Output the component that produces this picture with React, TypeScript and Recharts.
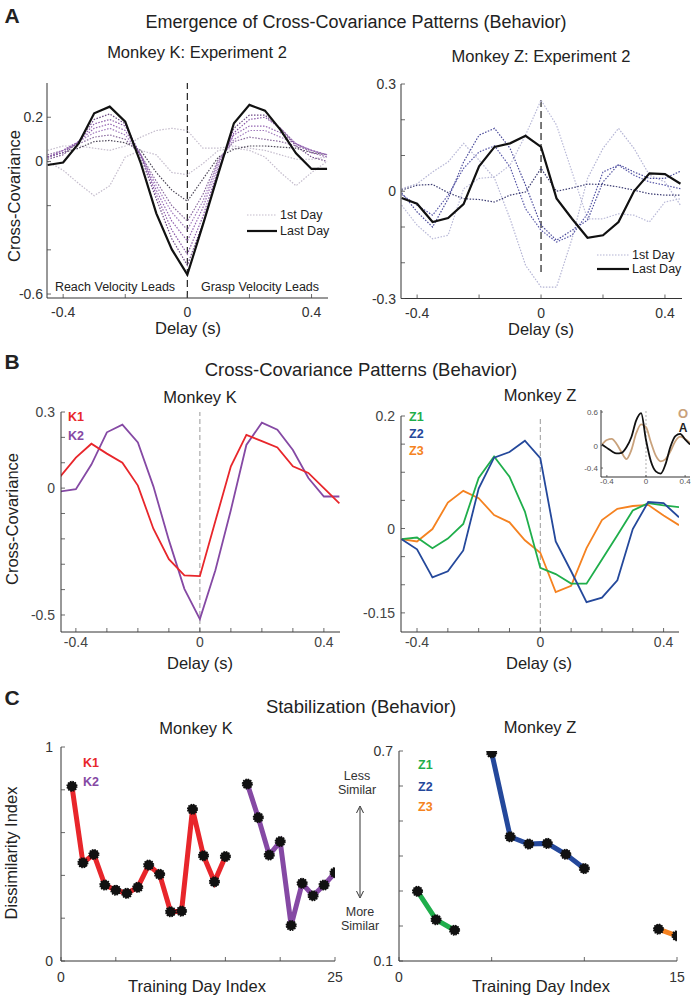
import React from "react";
import { LineChart, Line, XAxis, YAxis, ReferenceLine } from "recharts";

const FONT = "'Liberation Sans', Arial, Helvetica, sans-serif";

// delay grid shared by panels A and B (s)
const delays = [-0.45, -0.4, -0.35, -0.3, -0.25, -0.2, -0.15, -0.1, -0.05, 0, 0.05, 0.1, 0.15, 0.2, 0.25, 0.3, 0.35, 0.4, 0.45];

// A: Monkey K, experiment 2 (one curve per training day)
const kFirstDay = [0.05, 0.07, 0.07, 0.06, 0.05, 0.07, 0.11, 0.14, 0.15, 0.14, 0.06, 0.06, 0.07, 0.06, 0.05, 0.03, 0.01, 0.01, 0.02];
const kDay2 = [0.0, -0.04, -0.1, -0.155, -0.11, 0.02, 0.05, 0.03, -0.05, -0.06, -0.01, 0.05, 0.06, 0.05, 0.02, -0.05, -0.11, -0.05, 0.0];
const kDay3 = [0.02, 0.04, 0.06, 0.09, 0.095, 0.085, 0.05, -0.05, -0.13, -0.18, -0.08, 0.02, 0.055, 0.07, 0.07, 0.065, 0.06, 0.04, 0.03];
const kDay4 = [0.03, 0.05, 0.08, 0.11, 0.12, 0.1, 0.03, -0.09, -0.2, -0.27, -0.15, 0.01, 0.09, 0.11, 0.1, 0.09, 0.07, 0.05, 0.03];
const kDay5 = [0.02, 0.05, 0.09, 0.13, 0.15, 0.12, 0.03, -0.11, -0.23, -0.31, -0.18, 0.0, 0.1, 0.14, 0.14, 0.11, 0.08, 0.05, 0.03];
const kDay6 = [0.02, 0.05, 0.09, 0.15, 0.17, 0.14, 0.03, -0.13, -0.27, -0.36, -0.21, -0.01, 0.12, 0.16, 0.16, 0.13, 0.08, 0.05, 0.03];
const kDay7 = [0.02, 0.04, 0.09, 0.17, 0.19, 0.16, 0.03, -0.15, -0.31, -0.42, -0.25, -0.03, 0.13, 0.19, 0.2, 0.15, 0.08, 0.04, 0.02];
const kDay8 = [0.01, 0.03, 0.09, 0.19, 0.215, 0.17, 0.02, -0.17, -0.35, -0.47, -0.28, -0.04, 0.15, 0.21, 0.21, 0.15, 0.07, 0.02, 0.0];
const kLastDay = [-0.016, -0.005, 0.082, 0.218, 0.248, 0.18, -0.008, -0.235, -0.398, -0.512, -0.287, -0.054, 0.173, 0.256, 0.23, 0.143, 0.037, -0.034, -0.034];

// A: Monkey Z, experiment 2
const zFirstDay = [0.007, 0.021, 0.054, 0.082, 0.134, 0.087, 0.036, -0.077, -0.207, -0.268, -0.268, -0.133, 0.036, 0.12, 0.176, 0.12, 0.045, 0.026, -0.039];
const zDay2 = [-0.039, -0.095, -0.133, -0.123, 0.007, 0.036, 0.04, 0.073, 0.157, 0.255, 0.185, 0.054, -0.077, -0.077, -0.063, -0.067, -0.086, -0.03, -0.021];
const zDay3 = [-0.009, -0.039, -0.067, -0.011, 0.064, 0.11, 0.127, 0.068, -0.049, -0.109, -0.142, -0.123, -0.063, 0.054, 0.073, 0.045, 0.026, 0.017, 0.007];
const zDay4 = [-0.004, -0.058, -0.1, -0.021, 0.082, 0.157, 0.176, 0.12, 0.017, -0.095, -0.137, -0.109, -0.081, 0.026, 0.075, 0.054, 0.036, 0.036, 0.056];
const zDay5 = [0.003, 0.017, 0.019, -0.004, -0.021, -0.023, -0.03, -0.011, -0.002, 0.064, 0.0, 0.009, 0.02, 0.019, 0.012, 0.003, -0.007, -0.011, -0.011];
const zLastDay = [-0.019, -0.035, -0.086, -0.075, -0.036, 0.07, 0.124, 0.134, 0.155, 0.124, -0.02, -0.077, -0.13, -0.123, -0.086, 0.0, 0.05, 0.048, 0.021];

// B: stabilized patterns per experiment
const k1Pattern = [0.046, 0.12, 0.175, 0.136, 0.1, 0.01, -0.16, -0.28, -0.344, -0.347, -0.13, 0.086, 0.21, 0.185, 0.16, 0.086, 0.06, 0.0, -0.06];
const k2Pattern = [-0.013, -0.004, 0.093, 0.22, 0.25, 0.18, 0.007, -0.205, -0.397, -0.516, -0.324, -0.086, 0.17, 0.258, 0.23, 0.15, 0.04, -0.033, -0.033];
const z1Pattern = [-0.019, -0.016, -0.035, -0.018, 0.008, 0.09, 0.128, 0.092, 0.03, -0.07, -0.081, -0.098, -0.098, -0.055, -0.012, 0.032, 0.045, 0.041, 0.038];
const z2Pattern = [-0.019, -0.037, -0.087, -0.076, -0.039, 0.071, 0.126, 0.136, 0.156, 0.125, -0.023, -0.076, -0.131, -0.123, -0.092, -0.001, 0.047, 0.045, 0.02];
const z3Pattern = [-0.019, -0.023, -0.001, 0.046, 0.067, 0.054, 0.024, 0.011, -0.021, -0.043, -0.113, -0.102, -0.035, 0.015, 0.035, 0.04, 0.042, 0.023, 0.006];
// B inset: monkeys O and A
const oPattern = [0.02, 0.1, 0.12, 0.03, -0.12, -0.24, -0.08, 0.22, 0.38, 0.33, 0.06, -0.18, -0.28, -0.24, -0.1, 0.08, 0.16, 0.12, 0.05];
const aPattern = [0.02, -0.04, -0.1, -0.14, -0.13, -0.03, 0.15, 0.45, 0.58, 0.1, -0.28, -0.46, -0.5, -0.33, -0.02, 0.17, 0.21, 0.11, 0.02];

// C: dissimilarity index per training day
const k1Days = [1, 2, 3, 4, 5, 6, 7, 8, 9, 10, 11, 12, 13, 14, 15];
const k1Index = [0.816, 0.459, 0.498, 0.355, 0.331, 0.316, 0.344, 0.448, 0.405, 0.23, 0.233, 0.709, 0.492, 0.37, 0.488];
const k2Days = [17, 18, 19, 20, 21, 22, 23, 24, 25];
const k2Index = [0.827, 0.67, 0.495, 0.558, 0.166, 0.363, 0.305, 0.355, 0.413];
const z1Days = [1, 2, 3];
const z1Index = [0.299, 0.218, 0.188];
const z2Days = [5, 6, 7, 8, 9, 10];
const z2Index = [0.695, 0.455, 0.434, 0.436, 0.405, 0.364];
const z3Days = [14, 15];
const z3Index = [0.191, 0.172];

// ticks
const delayTicksA = [-0.4, -0.2, 0, 0.2, 0.4];
const delayTicksB = [-0.4, -0.3, -0.2, -0.1, 0, 0.1, 0.2, 0.3, 0.4];
const delayLabels = [-0.4, 0, 0.4];
const kAYTicks = [-0.6, -0.4, -0.2, 0, 0.2];
const kAYLabels = [-0.6, 0, 0.2];
const zAYTicks = [-0.3, -0.2, -0.1, 0, 0.1, 0.2, 0.3];
const zAYLabels = [-0.3, 0, 0.3];
const kBYTicks = [-0.5, -0.4, -0.3, -0.2, -0.1, 0, 0.1, 0.2, 0.3];
const kBYLabels = [-0.5, 0, 0.3];
const zBYTicks = [-0.15, -0.1, -0.05, 0, 0.05, 0.1, 0.15, 0.2];
const zBYLabels = [-0.15, 0, 0.2];
const insetXTicks = [-0.4, 0, 0.4];
const insetYTicks = [-0.4, 0, 0.6];
const kCXTicks = [0, 5, 10, 15, 20, 25];
const kCXLabels = [0, 25];
const kCYTicks = [0, 0.2, 0.4, 0.6, 0.8, 1];
const kCYLabels = [0, 1];
const zCXTicks = [0, 5, 10, 15];
const zCXLabels = [0, 15];
const zCYTicks = [0.1, 0.2, 0.3, 0.4, 0.5, 0.6, 0.7];
const zCYLabels = [0.1, 0.7];

const kARows = delays.map((x, i) => ({
  x, d1: kFirstDay[i], d2: kDay2[i], d3: kDay3[i], d4: kDay4[i], d5: kDay5[i],
  d6: kDay6[i], d7: kDay7[i], d8: kDay8[i], last: kLastDay[i],
}));
const zARows = delays.map((x, i) => ({
  x, d1: zFirstDay[i], d2: zDay2[i], d3: zDay3[i], d4: zDay4[i], d5: zDay5[i], last: zLastDay[i],
}));
const kBRows = delays.map((x, i) => ({ x, k1: k1Pattern[i], k2: k2Pattern[i] }));
const zBRows = delays.map((x, i) => ({ x, z1: z1Pattern[i], z2: z2Pattern[i], z3: z3Pattern[i] }));
const insetRows = delays.map((x, i) => ({ x, o: oPattern[i], a: aPattern[i] }));

function dayRows(maxDay: number, series: Record<string, [number[], number[]]>) {
  const rows: any[] = [];
  for (let d = 0; d <= maxDay; d++) {
    const row: any = { x: d };
    for (const key of Object.keys(series)) {
      const [days, vals] = series[key];
      const idx = days.indexOf(d);
      if (idx >= 0) row[key] = vals[idx];
    }
    rows.push(row);
  }
  return rows;
}
const kCRows = dayRows(25, { k1: [k1Days, k1Index], k2: [k2Days, k2Index] });
const zCRows = dayRows(15, { z1: [z1Days, z1Index], z2: [z2Days, z2Index], z3: [z3Days, z3Index] });

const RED = "#e8262b";
const PURPLE = "#8549a4";
const GREEN = "#1fae4b";
const BLUE = "#24489b";
const ORANGE = "#f58220";

type PlotProps = {
  left: number; top: number; width: number; height: number;
  xDomain: [number, number]; yDomain: [number, number];
  xTicks: number[]; xLabels: number[]; yTicks: number[]; yLabels: number[];
  data: any[]; fontSize?: number; xLabelDy?: number; yLabelDx?: number; tickLen?: number;
  labelColor?: string; children: React.ReactNode;
};

function Plot(p: PlotProps) {
  const ml = 46, mr = 8, mt = 8, mb = 30;
  const fs = p.fontSize ?? 14;
  const tl = p.tickLen ?? 4;
  const col = p.labelColor ?? "#333";
  const renderX = (props: any) => {
    const { x, y, payload } = props;
    const v = payload.value;
    return (
      <g>
        <line x1={x} x2={x} y1={y} y2={y - tl} stroke="#444" strokeWidth={0.8} />
        {p.xLabels.includes(v) && (
          <text x={x} y={y + (p.xLabelDy ?? 18)} textAnchor="middle" fontSize={fs} fill={col} fontFamily={FONT}>
            {String(v)}
          </text>
        )}
      </g>
    );
  };
  const renderY = (props: any) => {
    const { x, y, payload } = props;
    const v = payload.value;
    return (
      <g>
        <line x1={x} x2={x + tl} y1={y} y2={y} stroke="#444" strokeWidth={0.8} />
        {p.yLabels.includes(v) && (
          <text x={x - (p.yLabelDx ?? 5)} y={y + fs * 0.36} textAnchor="end" fontSize={fs} fill={col} fontFamily={FONT}>
            {String(v)}
          </text>
        )}
      </g>
    );
  };
  return (
    <div style={{ position: "absolute", left: p.left - ml, top: p.top - mt }}>
      <LineChart
        width={p.width + ml + mr}
        height={p.height + mt + mb}
        data={p.data}
        margin={{ top: mt, right: mr, left: 0, bottom: 0 }}
      >
        <XAxis
          type="number" dataKey="x" domain={p.xDomain} allowDataOverflow
          ticks={p.xTicks} interval={0} tickSize={0} tickMargin={0} tickLine={false}
          tick={renderX} height={mb} axisLine={{ stroke: "#333", strokeWidth: 1 }}
        />
        <YAxis
          type="number" domain={p.yDomain} allowDataOverflow
          ticks={p.yTicks} interval={0} tickSize={0} tickMargin={0} tickLine={false}
          tick={renderY} width={ml} axisLine={{ stroke: "#333", strokeWidth: 1 }}
        />
        {p.children}
      </LineChart>
    </div>
  );
}

function Txt({ x, y, size = 15, color = "#222", bold = false, anchor = "middle", rotate = false, children }: any) {
  const tx = anchor === "middle" ? "-50%" : anchor === "end" ? "-100%" : "0";
  return (
    <div
      style={{
        position: "absolute", left: x, top: y, whiteSpace: "nowrap", lineHeight: 1,
        fontFamily: FONT, fontSize: size, color, fontWeight: bold ? 700 : 400,
        transform: `translate(${tx}, -50%)${rotate ? " rotate(-90deg)" : ""}`,
      }}
    >
      {children}
    </div>
  );
}

const dotted = { strokeDasharray: "1.5 1.5", strokeWidth: 1.2, dot: false, isAnimationActive: false };

export default function App() {
  const marker = { r: 4.8, fill: "#111", stroke: "#111", strokeWidth: 1.5, strokeDasharray: "1.5 1" };
  return (
    <div style={{ position: "absolute", left: 0, top: 0, width: 693, height: 998, background: "#fff", overflow: "hidden" }}>
      {/* ---------- A ---------- */}
      <Txt x={12} y={15} size={21} bold>A</Txt>
      <Txt x={356} y={22} size={18}>Emergence of Cross-Covariance Patterns (Behavior)</Txt>
      <Txt x={197} y={52} size={16.5}>Monkey K: Experiment 2</Txt>
      <Txt x={541} y={56} size={16.5}>Monkey Z: Experiment 2</Txt>
      <Txt x={14} y={196} size={16.5} rotate>Cross-Covariance</Txt>

      <Plot left={47} top={83} width={281} height={215} xDomain={[-0.452, 0.453]} yDomain={[-0.618, 0.355]}
        xTicks={delayTicksA} xLabels={delayLabels} yTicks={kAYTicks} yLabels={kAYLabels} data={kARows} xLabelDy={19} yLabelDx={4}>
        <ReferenceLine x={0} stroke="#222" strokeWidth={1.2} strokeDasharray="7 4" />
        <Line dataKey="d1" stroke="#c4bccc" {...dotted} />
        <Line dataKey="d2" stroke="#c4bccc" {...dotted} />
        <Line dataKey="d3" stroke="#4e4858" {...dotted} />
        <Line dataKey="d4" stroke="#8a6a9e" {...dotted} />
        <Line dataKey="d5" stroke="#a27bbd" {...dotted} />
        <Line dataKey="d6" stroke="#9565b2" {...dotted} />
        <Line dataKey="d7" stroke="#8a58a8" {...dotted} />
        <Line dataKey="d8" stroke="#6e4a86" {...dotted} />
        <Line dataKey="last" stroke="#111" strokeWidth={2.2} dot={false} isAnimationActive={false} />
      </Plot>
      <Txt x={115} y={287} size={12.5}>Reach Velocity Leads</Txt>
      <Txt x={260} y={287} size={12.5}>Grasp Velocity Leads</Txt>
      <svg style={{ position: "absolute", left: 0, top: 0 }} width={693} height={998} pointerEvents="none">
        <line x1={247} x2={277} y1={215} y2={215} stroke="#c4bccc" strokeWidth={1.2} strokeDasharray="1.5 1.5" />
        <line x1={247} x2={277} y1={231} y2={231} stroke="#111" strokeWidth={2.2} />
        <line x1={597} x2={629} y1={255} y2={255} stroke="#b4b4d4" strokeWidth={1.2} strokeDasharray="1.5 1.5" />
        <line x1={597} x2={629} y1={269} y2={269} stroke="#111" strokeWidth={2.2} />
        <line x1={360} x2={360} y1={808} y2={896} stroke="#333" strokeWidth={1} />
        <path d="M356.5 813 L360 806 L363.5 813" fill="none" stroke="#333" strokeWidth={1} />
        <path d="M356.5 891 L360 898 L363.5 891" fill="none" stroke="#333" strokeWidth={1} />
      </svg>
      <Txt x={280} y={215} size={12.5} anchor="start">1st Day</Txt>
      <Txt x={280} y={231} size={12.5} anchor="start">Last Day</Txt>
      <Txt x={188} y={328} size={16.5}>Delay (s)</Txt>

      <Plot left={401} top={84} width={281} height={214.5} xDomain={[-0.452, 0.455]} yDomain={[-0.3, 0.3]}
        xTicks={delayTicksA} xLabels={delayLabels} yTicks={zAYTicks} yLabels={zAYLabels} data={zARows} xLabelDy={19} yLabelDx={5}>
        <ReferenceLine segment={[{ x: 0, y: 0.255 }, { x: 0, y: -0.235 }]} stroke="#222" strokeWidth={1.2} strokeDasharray="7 4" />
        <Line dataKey="d1" stroke="#b4b4d4" {...dotted} />
        <Line dataKey="d2" stroke="#babad8" {...dotted} />
        <Line dataKey="d3" stroke="#5858a8" {...dotted} />
        <Line dataKey="d4" stroke="#4a4a9a" {...dotted} />
        <Line dataKey="d5" stroke="#3c3c72" {...dotted} />
        <Line dataKey="last" stroke="#111" strokeWidth={2.2} dot={false} isAnimationActive={false} />
      </Plot>
      <Txt x={632} y={255} size={12.5} anchor="start">1st Day</Txt>
      <Txt x={632} y={269} size={12.5} anchor="start">Last Day</Txt>
      <Txt x={541} y={329} size={16.5}>Delay (s)</Txt>

      {/* ---------- B ---------- */}
      <Txt x={12} y={361} size={21} bold>B</Txt>
      <Txt x={361} y={370} size={18.5}>Cross-Covariance Patterns (Behavior)</Txt>
      <Txt x={200} y={397} size={16.5}>Monkey K</Txt>
      <Txt x={540} y={395} size={16.5}>Monkey Z</Txt>
      <Txt x={12} y={519} size={16.5} rotate>Cross-Covariance</Txt>

      <Plot left={61} top={412} width={279} height={220} xDomain={[-0.448, 0.452]} yDomain={[-0.567, 0.3]}
        xTicks={delayTicksB} xLabels={delayLabels} yTicks={kBYTicks} yLabels={kBYLabels} data={kBRows} xLabelDy={15} yLabelDx={6} labelColor="#444">
        <ReferenceLine x={0} stroke="#999" strokeWidth={1} strokeDasharray="5 3" />
        <Line dataKey="k2" stroke={PURPLE} strokeWidth={1.8} dot={false} isAnimationActive={false} />
        <Line dataKey="k1" stroke={RED} strokeWidth={1.8} dot={false} isAnimationActive={false} />
      </Plot>
      <Txt x={68} y={417} size={12.5} bold color={RED} anchor="start">K1</Txt>
      <Txt x={68} y={436} size={12.5} bold color={PURPLE} anchor="start">K2</Txt>
      <Txt x={200} y={663} size={16.5}>Delay (s)</Txt>

      <Plot left={401} top={416} width={278} height={216} xDomain={[-0.452, 0.45]} yDomain={[-0.184, 0.2]}
        xTicks={delayTicksB} xLabels={delayLabels} yTicks={zBYTicks} yLabels={zBYLabels} data={zBRows} xLabelDy={15} yLabelDx={6} labelColor="#444">
        <ReferenceLine x={0} stroke="#999" strokeWidth={1} strokeDasharray="5 3" />
        <Line dataKey="z3" stroke={ORANGE} strokeWidth={1.8} dot={false} isAnimationActive={false} />
        <Line dataKey="z1" stroke={GREEN} strokeWidth={1.8} dot={false} isAnimationActive={false} />
        <Line dataKey="z2" stroke={BLUE} strokeWidth={1.8} dot={false} isAnimationActive={false} />
      </Plot>
      <Txt x={409} y={417} size={12.5} bold color={GREEN} anchor="start">Z1</Txt>
      <Txt x={409} y={434} size={12.5} bold color={BLUE} anchor="start">Z2</Txt>
      <Txt x={409} y={451} size={12.5} bold color={ORANGE} anchor="start">Z3</Txt>
      <Txt x={539} y={663} size={16.5}>Delay (s)</Txt>

      <Plot left={601} top={410} width={89} height={67} xDomain={[-0.46, 0.45]} yDomain={[-0.56, 0.636]}
        xTicks={insetXTicks} xLabels={insetXTicks} yTicks={insetYTicks} yLabels={insetYTicks} data={insetRows}
        fontSize={8} xLabelDy={7} yLabelDx={3} tickLen={2} labelColor="#555">
        <ReferenceLine x={0} stroke="#999" strokeWidth={0.8} strokeDasharray="2 2" />
        <Line dataKey="o" type="monotone" stroke="#c9a27c" strokeWidth={1.8} dot={false} isAnimationActive={false} />
        <Line dataKey="a" type="monotone" stroke="#111" strokeWidth={1.8} dot={false} isAnimationActive={false} />
      </Plot>
      <Txt x={683} y={413} size={13} color="#c9a27c" bold>O</Txt>
      <Txt x={683} y={428} size={12} bold>A</Txt>

      {/* ---------- C ---------- */}
      <Txt x={12} y={697} size={21} bold>C</Txt>
      <Txt x={361} y={707} size={18.5}>Stabilization (Behavior)</Txt>
      <Txt x={196} y={728} size={16.5}>Monkey K</Txt>
      <Txt x={540} y={727} size={16.5}>Monkey Z</Txt>
      <Txt x={11} y={853} size={16.5} rotate>Dissimilarity Index</Txt>

      <Plot left={61} top={747} width={274} height={214} xDomain={[0, 25]} yDomain={[0, 1]}
        xTicks={kCXTicks} xLabels={kCXLabels} yTicks={kCYTicks} yLabels={kCYLabels} data={kCRows} xLabelDy={21} yLabelDx={8}>
        <Line dataKey="k1" stroke={RED} strokeWidth={5} dot={marker} isAnimationActive={false} />
        <Line dataKey="k2" stroke={PURPLE} strokeWidth={5} dot={marker} isAnimationActive={false} />
      </Plot>
      <Txt x={83} y={763} size={12.5} bold color={RED} anchor="start">K1</Txt>
      <Txt x={83} y={782} size={12.5} bold color={PURPLE} anchor="start">K2</Txt>
      <Txt x={197} y={986} size={16.5}>Training Day Index</Txt>

      <Txt x={357} y={776} size={12.5} color="#333">Less</Txt>
      <Txt x={357} y={790} size={12.5} color="#333">Similar</Txt>
      <Txt x={360} y={912} size={12.5} color="#333">More</Txt>
      <Txt x={360} y={926} size={12.5} color="#333">Similar</Txt>

      <Plot left={399} top={751} width={278} height={210} xDomain={[0, 15]} yDomain={[0.1, 0.7]}
        xTicks={zCXTicks} xLabels={zCXLabels} yTicks={zCYTicks} yLabels={zCYLabels} data={zCRows} xLabelDy={21} yLabelDx={6}>
        <Line dataKey="z1" stroke={GREEN} strokeWidth={5} dot={marker} isAnimationActive={false} />
        <Line dataKey="z2" stroke={BLUE} strokeWidth={5} dot={marker} isAnimationActive={false} />
        <Line dataKey="z3" stroke={ORANGE} strokeWidth={5} dot={marker} isAnimationActive={false} />
      </Plot>
      <Txt x={418} y={765} size={12.5} bold color={GREEN} anchor="start">Z1</Txt>
      <Txt x={418} y={787} size={12.5} bold color={BLUE} anchor="start">Z2</Txt>
      <Txt x={418} y={807} size={12.5} bold color={ORANGE} anchor="start">Z3</Txt>
      <Txt x={541} y={986} size={16.5}>Training Day Index</Txt>
    </div>
  );
}
